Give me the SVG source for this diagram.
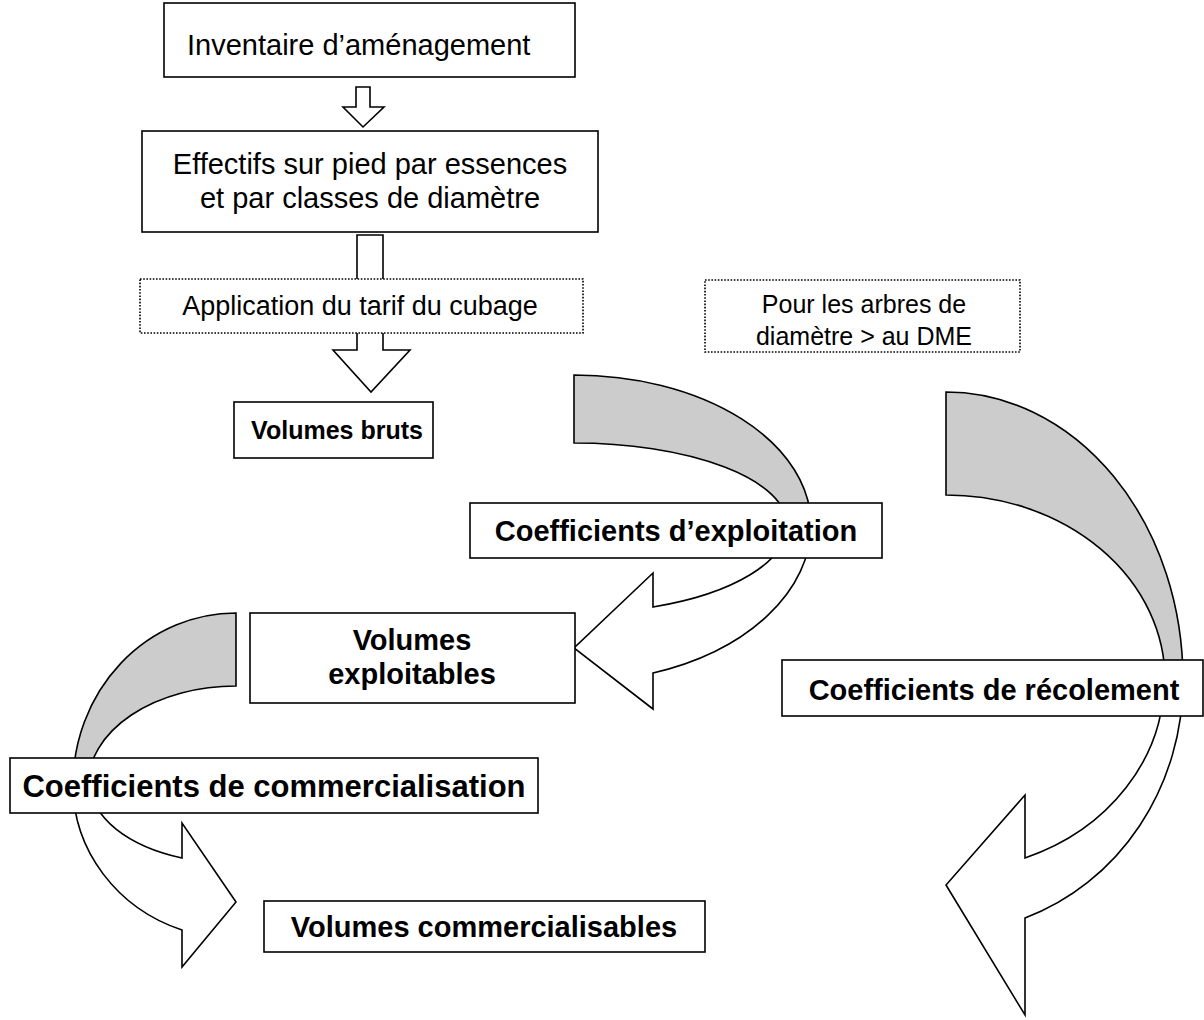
<svg xmlns="http://www.w3.org/2000/svg" width="1204" height="1020" viewBox="0 0 1204 1020">
<style>
.box{fill:#fff;stroke:#000;stroke-width:1.6}
.dot{fill:#fff;stroke:#000;stroke-width:1.6;stroke-dasharray:1.6 1.6}
.arr{fill:#fff;stroke:#000;stroke-width:1.6;stroke-linejoin:miter}
.gry{fill:#cccccc;stroke:#000;stroke-width:1.6}
.t{font-family:"Liberation Sans",Arial,sans-serif;font-size:29px;fill:#000}
.b{font-family:"Liberation Sans",Arial,sans-serif;font-size:29px;font-weight:bold;fill:#000}
.s{font-family:"Liberation Sans",Arial,sans-serif;font-size:26px;fill:#000}
.c{text-anchor:middle}
</style>
<rect width="1204" height="1020" fill="#fff"/>
<g id="connectors">
  <path class="arr" d="M356,87 L370,87 L370,107 L384,107 L363,127 L343,107 L356,107 Z"/>
  <path class="arr" d="M357,235 L383,235 L383,350 L410,350 L371,392 L333,350 L357,350 Z"/>
  <g id="curved-exploitation">
    <path class="gry" d="M574,375 A237 150 0 0 1 811,525 L787,525 A213 82 0 0 0 574,443 Z"/>
    <path class="arr" d="M811,525 A237 157 0 0 1 653,673 L653,709 L574,648 L653,573 L653,607 A213 88 0 0 0 787,525 Z"/>
  </g>
  <g id="curved-commercialisation">
    <path class="gry" d="M236,613 A163 172 0 0 0 73,785 L88,785 A148 99 0 0 1 236,686 Z"/>
    <path class="arr" d="M73,785 A163 154 0 0 0 182,930 L182,967 L236,902 L182,823 L182,858 A145 79 0 0 1 91,785 Z"/>
  </g>
  <g id="curved-recolement">
    <path class="gry" d="M946,392 A237 288 0 0 1 1183,680 L1165,680 A219 185 0 0 0 946,495 Z"/>
    <path class="arr" d="M1183,680 A237 252 0 0 1 1025,918 L1025,1015 L946,885 L1025,795 L1025,858 A218 191 0 0 0 1164,680 Z"/>
  </g>
</g>
<g id="n-inventaire">
  <rect class="box" x="164" y="3" width="411" height="74"/>
  <text class="t" x="187" y="55">Inventaire d’aménagement</text>
</g>
<g id="n-effectifs">
  <rect class="box" x="142" y="131" width="456" height="101"/>
  <text class="t c" x="370" y="174">Effectifs sur pied par essences</text>
  <text class="t c" x="370" y="208">et par classes de diamètre</text>
</g>
<g id="n-application">
  <rect class="dot" x="140" y="279" width="443" height="54"/>
  <text class="s c" x="360" y="315" style="font-size:27px">Application du tarif du cubage</text>
</g>
<g id="n-pour">
  <rect class="dot" x="705" y="280" width="315" height="72"/>
  <text class="s c" x="864" y="313" style="font-size:25px">Pour les arbres de</text>
  <text class="s c" x="864" y="345" style="font-size:25px">diamètre &gt; au DME</text>
</g>
<g id="n-volumes-bruts">
  <rect class="box" x="234" y="402" width="199" height="56"/>
  <text class="b c" x="337" y="439" style="font-size:25px">Volumes bruts</text>
</g>
<g id="n-coef-exploitation">
  <rect class="box" x="470" y="503" width="412" height="55"/>
  <text class="b c" x="676" y="541">Coefficients d’exploitation</text>
</g>
<g id="n-volumes-exploitables">
  <rect class="box" x="250" y="613" width="325" height="90"/>
  <text class="b c" x="412" y="650">Volumes</text>
  <text class="b c" x="412" y="684">exploitables</text>
</g>
<g id="n-coef-recolement">
  <rect class="box" x="782" y="660" width="421" height="56"/>
  <text class="b c" x="994" y="700">Coefficients de récolement</text>
</g>
<g id="n-coef-commercialisation">
  <rect class="box" x="10" y="758" width="528" height="55"/>
  <text class="b c" x="274" y="797" style="font-size:31px">Coefficients de commercialisation</text>
</g>
<g id="n-volumes-commercialisables">
  <rect class="box" x="264" y="901" width="441" height="51"/>
  <text class="b c" x="484" y="937">Volumes commercialisables</text>
</g>
</svg>
